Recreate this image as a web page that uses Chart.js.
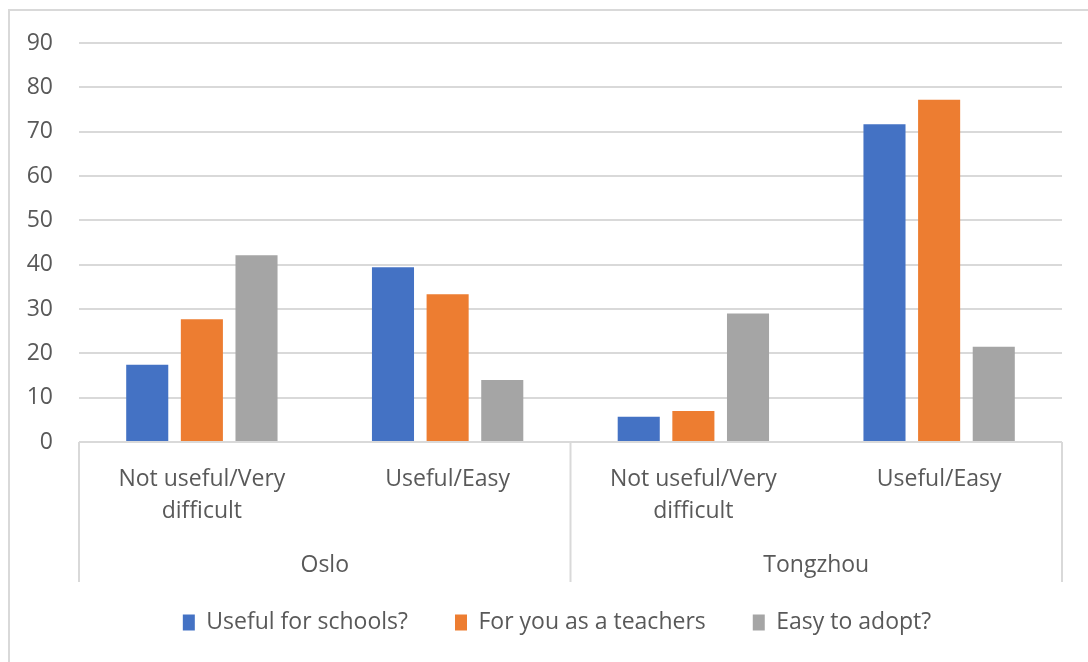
<!DOCTYPE html>
<html>
<head>
<meta charset="utf-8">
<script src="https://cdn.jsdelivr.net/npm/chart.js@4/dist/chart.umd.min.js"></script>
<style>
  html, body { margin: 0; padding: 0; background: #fff; }
  #wrap { position: relative; width: 1088px; height: 662px; }
</style>
</head>
<body>
<div id="wrap"><canvas id="chart" width="1088" height="662"></canvas></div>
<script>
// Data
const groups = ['Oslo', 'Tongzhou'];
const categories = [['Not useful/Very', 'difficult'], 'Useful/Easy', ['Not useful/Very', 'difficult'], 'Useful/Easy'];
const usefulForSchools = [17.4, 39.4, 5.7, 71.7];
const forYouAsTeachers = [27.7, 33.3, 7.0, 77.2];
const easyToAdopt = [42.1, 14.0, 29.0, 21.5];
const yTicks = [0, 10, 20, 30, 40, 50, 60, 70, 80, 90];

const FONT = '"Open Sans", Lato, sans-serif';
const TEXT = '#595959';
const LINE = '#d9d9d9';

// Outer frame + separators of the two-level category axis
const framePlugin = {
    id: 'frame',
    beforeDraw(chart) {
        const ctx = chart.ctx;
        ctx.save();
        ctx.fillStyle = '#fff';
        ctx.fillRect(0, 0, chart.width, chart.height);
        ctx.strokeStyle = LINE;
        ctx.lineWidth = 2;
        ctx.strokeRect(9, 10, chart.width + 20, chart.height + 20);
        ctx.restore();
    },
    afterDraw(chart) {
        const ctx = chart.ctx;
        const g = chart.scales.x2;
        const top = chart.chartArea.bottom;
        const bottom = top + 140;
        ctx.save();
        ctx.strokeStyle = LINE;
        ctx.lineWidth = 2;
        for (let i = 0; i <= groups.length; i++) {
            const x = g.left + i * g.width / groups.length;
            ctx.beginPath();
            ctx.moveTo(x, top);
            ctx.lineTo(x, bottom);
            ctx.stroke();
        }
        ctx.restore();
    }
};

// labels allowed to spill outside their scale box
const noLabelClip = scale => { scale._computeLabelArea = () => undefined; };

function createChart() {
    const ctx = document.getElementById('chart').getContext('2d');
    new Chart(ctx, {
        type: 'bar',
        data: {
            labels: categories,
            datasets: [
                { label: 'Useful for schools?', data: usefulForSchools, backgroundColor: '#4472C4' },
                { label: 'For you as a teachers', data: forYouAsTeachers, backgroundColor: '#ED7D31' },
                { label: 'Easy to adopt?', data: easyToAdopt, backgroundColor: '#A5A5A5' }
            ]
        },
        options: {
            responsive: false,
            animation: false,
            categoryPercentage: 0.667,
            barPercentage: 0.77,
            layout: { padding: { left: 52, right: 26, top: 43, bottom: 18 } },
            plugins: {
                tooltip: { enabled: false },
                legend: {
                    position: 'bottom',
                    labels: {
                        boxWidth: 12,
                        boxHeight: 16,
                        padding: 47,
                        color: TEXT,
                        font: { family: FONT, size: 23 }
                    }
                }
            },
            scales: {
                x: {
                    grid: { display: false },
                    border: { display: false },
                    ticks: {
                        color: TEXT,
                        padding: 13,
                        maxRotation: 0,
                        autoSkip: false,
                        font: { family: FONT, size: 23, lineHeight: '32px' }
                    },
                    afterFit(scale) { scale.height = 85; }
                },
                x2: {
                    type: 'category',
                    position: 'bottom',
                    labels: groups,
                    offset: true,
                    grid: { display: false },
                    border: { display: false },
                    ticks: {
                        color: TEXT,
                        padding: 14,
                        maxRotation: 0,
                        font: { family: FONT, size: 23, lineHeight: '32px' }
                    },
                    afterFit(scale) {
                        scale.height = 37;
                        noLabelClip(scale);
                    }
                },
                y: {
                    min: yTicks[0],
                    max: yTicks[yTicks.length - 1],
                    afterBuildTicks(scale) { scale.ticks = yTicks.map(v => ({ value: v })); },
                    grid: { color: LINE, lineWidth: 2, drawTicks: false },
                    border: { display: false },
                    ticks: {
                        color: TEXT,
                        padding: 26,
                        font: { family: FONT, size: 23 }
                    },
                    afterFit(scale) {
                        scale.width = 27;
                        noLabelClip(scale);
                    }
                }
            }
        },
        plugins: [framePlugin]
    });
}

createChart();
</script>
</body>
</html>
